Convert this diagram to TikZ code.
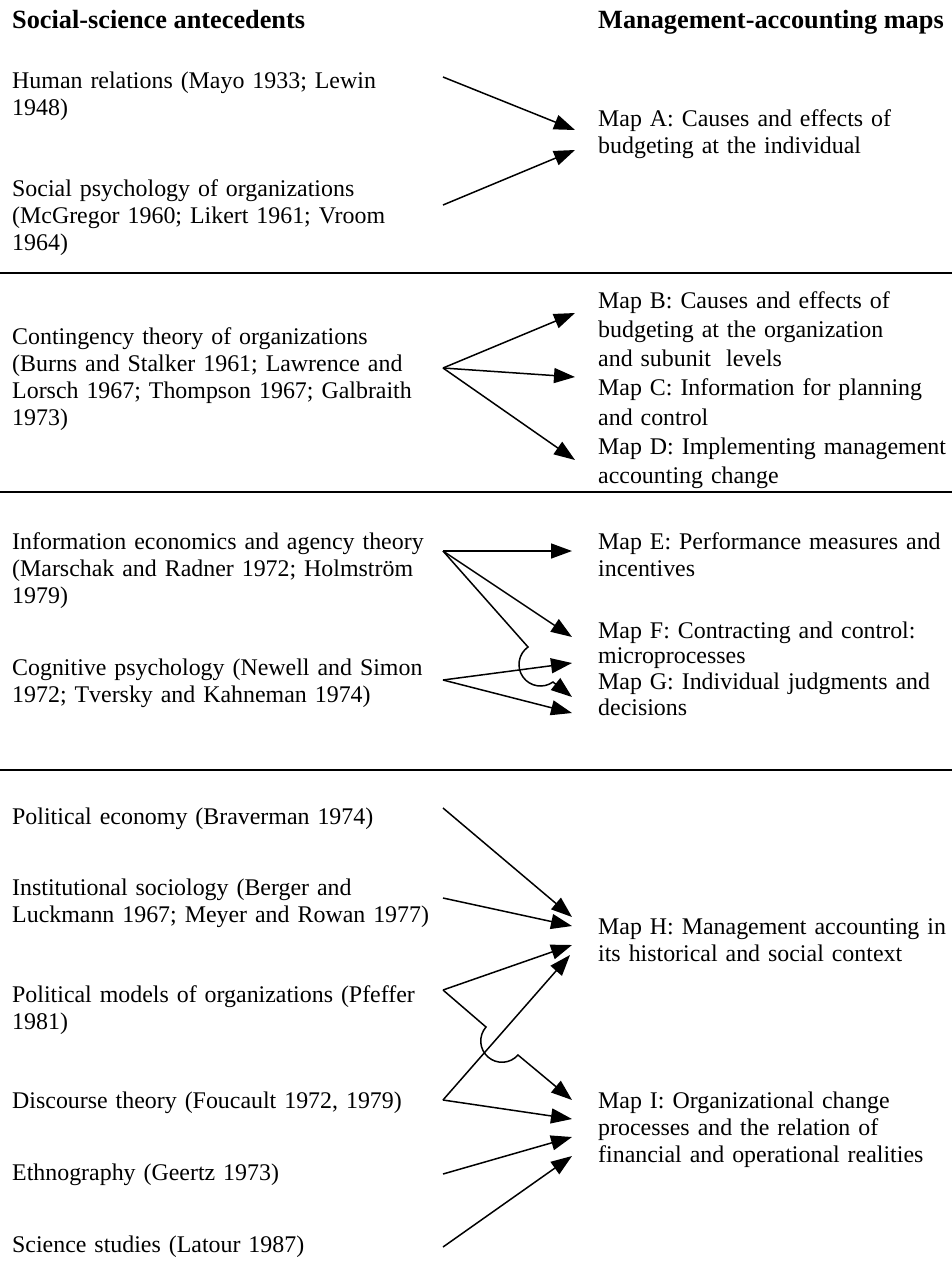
\documentclass[tikz,border=0pt]{standalone}
\usepackage{fontspec}
\setmainfont{Liberation Serif}
\usetikzlibrary{arrows.meta}
\begin{document}
\begin{tikzpicture}[x=1pt,y=-1pt,
  basefont/.style={font=\fontsize{23.9}{27}\selectfont},
  lefttxt/.style={basefont, inner sep=0pt, anchor=base west, align=left, text width=440pt},
  righttxt/.style={basefont, inner sep=0pt, anchor=base west, align=left, text width=400pt},
  headtxt/.style={inner sep=0pt, anchor=base west, font=\fontsize{26.3}{28}\selectfont\bfseries},
  arr/.style={-{Triangle[length=21pt,width=15pt]}, line width=1.5pt},
  rulel/.style={line width=1.5pt}]
\useasboundingbox (0,0) rectangle (952,1261);

% headings
\node[headtxt] (h1) at (12,28) {Social-science antecedents};
\node[headtxt] (h2) at (598,28) {Management-accounting maps};

% left column
\node[lefttxt] (hr) at (12,88) {Human relations (Mayo 1933; Lewin\\1948)};
\node[lefttxt] (sp) at (12,196) {Social psychology of organizations\\(McGregor 1960; Likert 1961; Vroom\\1964)};
\node[lefttxt] (ct) at (12,344) {Contingency theory of organizations\\(Burns and Stalker 1961; Lawrence and\\Lorsch 1967; Thompson 1967; Galbraith\\1973)};
\node[lefttxt] (ie) at (12,549) {Information economics and agency theory\\(Marschak and Radner 1972; Holmström\\1979)};
\node[lefttxt] (cg) at (12,675) {Cognitive psychology (Newell and Simon\\1972; Tversky and Kahneman 1974)};
\node[lefttxt] (pe) at (12,824) {Political economy (Braverman 1974)};
\node[lefttxt] (is) at (12,895) {Institutional sociology (Berger and\\Luckmann 1967; Meyer and Rowan 1977)};
\node[lefttxt] (pm) at (12,1002) {Political models of organizations (Pfeffer\\1981)};
\node[lefttxt] (dt) at (12,1108) {Discourse theory (Foucault 1972, 1979)};
\node[lefttxt] (et) at (12,1180) {Ethnography (Geertz 1973)};
\node[lefttxt] (ss) at (12,1252) {Science studies (Latour 1987)};

% right column
\node[righttxt] (mA) at (598,126) {Map A: Causes and effects of\\budgeting at the individual};
\node[righttxt, font=\fontsize{23.9}{29.3}\selectfont] (mB) at (598,308) {Map B: Causes and effects of\\budgeting at the organization\\and subunit\hspace{0.3em} levels};
\node[righttxt, font=\fontsize{23.9}{29.3}\selectfont] (mC) at (598,395.9) {Map C: Information for planning\\and control};
\node[righttxt, font=\fontsize{23.9}{29.3}\selectfont] (mD) at (598,454.5) {Map D: Implementing management\\accounting change};
\node[righttxt] (mE) at (598,549) {Map E: Performance measures and\\incentives};
\node[righttxt, font=\fontsize{23.9}{25.7}\selectfont] (mF) at (598,638) {Map F: Contracting and control:\\microprocesses};
\node[righttxt, font=\fontsize{23.9}{25.7}\selectfont] (mG) at (598,689.4) {Map G: Individual judgments and\\decisions};
\node[righttxt] (mH) at (598,934) {Map H: Management accounting in\\its historical and social context};
\node[righttxt] (mI) at (598,1108) {Map I: Organizational change\\processes and the relation of\\financial and operational realities};

% section rules
\coordinate (r1l) at (0,273); \coordinate (r1r) at (952,273);
\coordinate (r2l) at (0,492); \coordinate (r2r) at (952,492);
\coordinate (r3l) at (0,770); \coordinate (r3r) at (952,770);
\draw[rulel] (r1l) -- (r1r);
\draw[rulel] (r2l) -- (r2r);
\draw[rulel] (r3l) -- (r3r);

% source ports
\coordinate (phr) at (443,77);
\coordinate (psp) at (443,205);
\coordinate (pct) at (443,368);
\coordinate (pie) at (443,551);
\coordinate (pcg) at (443,680);
\coordinate (ppe) at (443,808);
\coordinate (pis) at (443,898);
\coordinate (ppm) at (443,990);
\coordinate (pdt) at (443,1100);
\coordinate (pet) at (443,1174);
\coordinate (pss) at (443,1247);
% target ports
\coordinate (tA1) at (575,130);
\coordinate (tA2) at (575,150);
\coordinate (tB) at (575,313);
\coordinate (tC) at (575,377);
\coordinate (tD) at (575,460);
\coordinate (tE) at (572,551);
\coordinate (tF1) at (572,637);
\coordinate (tF2) at (572,663);
\coordinate (tG1) at (572,697);
\coordinate (tG2) at (572,713);
\coordinate (tH1) at (572,917);
\coordinate (tH2) at (572,926);
\coordinate (tH3) at (572,945);
\coordinate (tH4) at (570,955);
\coordinate (tI1) at (572,1100);
\coordinate (tI2) at (572,1119);
\coordinate (tI3) at (572,1137);
\coordinate (tI4) at (572,1156);
% hop starts
\coordinate (hopG) at (528,647);
\coordinate (hopI) at (486,1027);

% connectors
\draw[arr] (phr) -- (tA1);
\draw[arr] (psp) -- (tA2);
\draw[arr] (pct) -- (tB);
\draw[arr] (pct) -- (tC);
\draw[arr] (pct) -- (tD);
\draw[arr] (pie) -- (tE);
\draw[arr] (pie) -- (tF1);
\draw[arr] (pie) -- (hopG) arc[start angle=234.5, end angle=54.5, radius=21.5] -- (tG1);
\draw[arr] (pcg) -- (tF2);
\draw[arr] (pcg) -- (tG2);
\draw[arr] (ppe) -- (tH1);
\draw[arr] (pis) -- (tH2);
\draw[arr] (ppm) -- (tH3);
\draw[arr] (ppm) -- (hopI) arc[start angle=221.2, end angle=41.2, radius=21.25] -- (tI1);
\draw[arr] (pdt) -- (tH4);
\draw[arr] (pdt) -- (tI2);
\draw[arr] (pet) -- (tI3);
\draw[arr] (pss) -- (tI4);
\end{tikzpicture}
\end{document}
